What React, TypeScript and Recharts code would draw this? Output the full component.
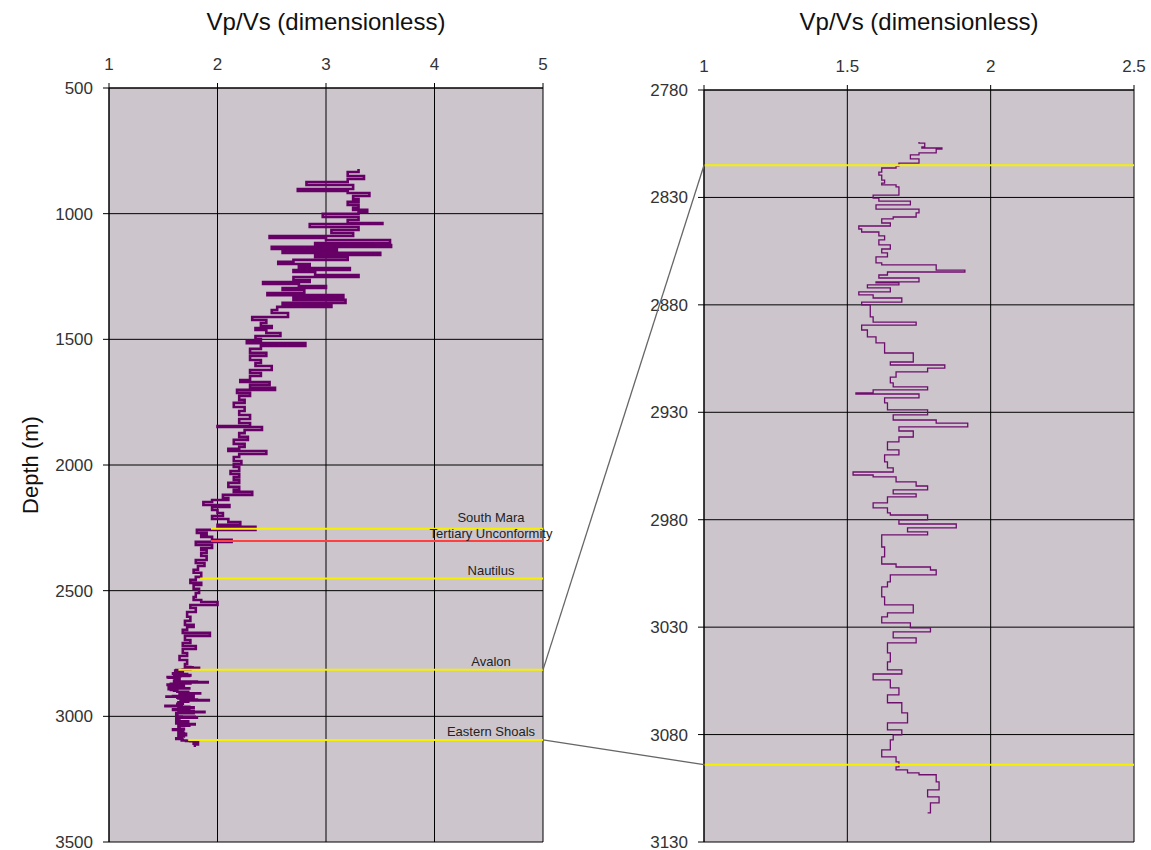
import React from "react";
import {
  LineChart,
  Line,
  XAxis,
  YAxis,
  CartesianGrid,
  ReferenceLine,
} from "recharts";

const upperLog: [number, number][] = [
  [822, 3.3], [834, 3.2], [850, 3.35], [862, 3.2], [874, 2.82], [886, 3.25],
  [902, 2.74], [910, 3.2], [918, 3.4], [930, 3.25], [942, 3.3], [953, 3.2],
  [965, 3.3], [977, 3.25], [985, 3.38], [993, 3.3], [1001, 2.97], [1013, 3.3],
  [1025, 3.2], [1037, 3.52], [1041, 2.85], [1053, 3.3], [1065, 3.05], [1077, 3.25],
  [1089, 2.48], [1097, 3.0], [1105, 3.59], [1117, 2.9], [1125, 3.6], [1132, 2.5],
  [1140, 3.1], [1148, 2.6], [1156, 3.5], [1164, 2.9], [1172, 3.2], [1184, 2.7],
  [1192, 2.56], [1200, 2.85], [1208, 2.75], [1216, 3.22], [1224, 2.7], [1232, 2.9],
  [1244, 3.3], [1252, 2.7], [1264, 2.85], [1272, 2.42], [1280, 2.75], [1288, 3.0],
  [1296, 2.6], [1304, 2.8], [1316, 2.46], [1324, 3.16], [1335, 2.7], [1343, 3.18],
  [1355, 2.6], [1363, 3.05], [1371, 2.55], [1383, 2.5], [1395, 2.65], [1411, 2.32],
  [1423, 2.45], [1435, 2.4], [1447, 2.5], [1455, 2.35], [1463, 2.45], [1475, 2.58],
  [1487, 2.35], [1499, 2.4], [1507, 2.27], [1515, 2.81], [1526, 2.4], [1538, 2.3],
  [1554, 2.45], [1566, 2.3], [1582, 2.4], [1594, 2.35], [1606, 2.5], [1622, 2.3],
  [1634, 2.4], [1646, 2.3], [1662, 2.21], [1670, 2.48], [1681, 2.3], [1693, 2.53],
  [1701, 2.18], [1713, 2.3], [1725, 2.2], [1741, 2.25], [1753, 2.15], [1769, 2.25],
  [1785, 2.2], [1801, 2.3], [1817, 2.2], [1833, 2.3], [1845, 2.0], [1849, 2.41],
  [1861, 2.25], [1873, 2.2], [1888, 2.28], [1900, 2.15], [1916, 2.25], [1928, 2.2],
  [1936, 2.1], [1944, 2.45], [1956, 2.2], [1968, 2.15], [1984, 2.22], [1996, 2.15],
  [2008, 2.2], [2024, 2.12], [2036, 2.2], [2048, 2.15], [2059, 2.2], [2071, 2.1],
  [2087, 2.2], [2099, 2.15], [2107, 2.32], [2119, 2.05], [2131, 2.1], [2139, 1.95],
  [2147, 1.87], [2159, 2.11], [2167, 1.95], [2179, 2.0], [2191, 2.05], [2203, 1.95],
  [2215, 2.1], [2227, 2.21], [2238, 2.0], [2246, 2.35], [2258, 1.81], [2270, 1.9],
  [2278, 1.85], [2286, 1.95], [2298, 2.13], [2306, 1.8], [2318, 1.95], [2330, 1.85],
  [2338, 1.9], [2350, 1.85], [2362, 1.9], [2378, 1.8], [2390, 1.88], [2402, 1.82],
  [2417, 1.78], [2429, 1.85], [2445, 1.8], [2457, 1.75], [2469, 1.85], [2477, 1.78],
  [2493, 1.83], [2509, 1.8], [2525, 1.78], [2537, 1.85], [2545, 2.0], [2557, 1.75],
  [2569, 1.8], [2585, 1.72], [2604, 1.75], [2620, 1.7], [2636, 1.78], [2644, 1.72],
  [2656, 1.68], [2668, 1.93], [2680, 1.7], [2696, 1.75], [2708, 1.68], [2720, 1.8],
  [2732, 1.68], [2748, 1.72], [2760, 1.65], [2776, 1.72], [2792, 1.7],
];

// zoom window 2800-3120 m
const zoomLog: [number, number][] = [
  [2804.2, 1.75], [2804.7, 1.77], [2806.5, 1.76], [2807, 1.83], [2807.5, 1.81],
  [2809.3, 1.75], [2810.2, 1.72], [2812.1, 1.75], [2814, 1.68], [2815.4, 1.67],
  [2816.3, 1.62], [2818.2, 1.61], [2819.6, 1.62], [2821.9, 1.63], [2823.3, 1.62],
  [2824.2, 1.67], [2825.1, 1.68], [2827.5, 1.68], [2828.9, 1.59], [2830.3, 1.61],
  [2831.7, 1.72], [2833.5, 1.6], [2835.4, 1.75], [2837.2, 1.74], [2839.1, 1.66],
  [2840, 1.62], [2841.9, 1.65], [2843.3, 1.54], [2844.7, 1.55], [2846.1, 1.61],
  [2847.9, 1.63], [2849.8, 1.61], [2852.1, 1.65], [2854, 1.62], [2855.8, 1.64],
  [2857.7, 1.6], [2860.5, 1.62], [2861.4, 1.81], [2863.8, 1.91], [2864.7, 1.64],
  [2866.1, 1.61], [2867.5, 1.75], [2869.3, 1.6], [2869.8, 1.68], [2870.7, 1.57],
  [2872.1, 1.65], [2874, 1.54], [2875.4, 1.59], [2876.8, 1.69], [2878.7, 1.55],
  [2880, 1.58], [2883.3, 1.58], [2885.6, 1.59], [2888, 1.74], [2889.4, 1.55],
  [2891.7, 1.57], [2894.9, 1.6], [2897.7, 1.63], [2899.6, 1.63], [2902.4, 1.73],
  [2906.6, 1.65], [2908, 1.84], [2909.4, 1.78], [2911.2, 1.67], [2913.6, 1.65],
  [2916.3, 1.66], [2918.2, 1.78], [2919.6, 1.59], [2921, 1.53], [2921.5, 1.75],
  [2923.3, 1.63], [2925.6, 1.64], [2928.9, 1.78], [2931.2, 1.66], [2933.6, 1.81],
  [2935, 1.92], [2936.8, 1.68], [2938.7, 1.73], [2941.5, 1.68], [2943.8, 1.64],
  [2947.5, 1.68], [2949.8, 1.63], [2953.1, 1.64], [2955.9, 1.66], [2957.8, 1.52],
  [2959.2, 1.59], [2960.1, 1.67], [2962.4, 1.74], [2964.3, 1.78], [2966.1, 1.66],
  [2968, 1.74], [2969.4, 1.64], [2972.2, 1.59], [2974.5, 1.64], [2976.8, 1.65],
  [2977.8, 1.78], [2980.1, 1.68], [2982, 1.88], [2983.8, 1.71], [2985.7, 1.78],
  [2987.1, 1.62], [2992.7, 1.63], [2997.3, 1.62], [3000.6, 1.67], [3002, 1.79],
  [3003.4, 1.81], [3005.7, 1.65], [3008.9, 1.64], [3011.3, 1.62], [3015.9, 1.63],
  [3019.6, 1.73], [3023.4, 1.64], [3025.2, 1.62], [3028, 1.72], [3030.3, 1.79],
  [3032.2, 1.66], [3035, 1.74], [3037.3, 1.64], [3042, 1.65], [3046.2, 1.64],
  [3049.9, 1.69], [3051.8, 1.59], [3054.5, 1.65], [3058.3, 1.68], [3061.5, 1.64],
  [3065.2, 1.69], [3069.9, 1.71], [3074.6, 1.64], [3077.8, 1.69], [3080.1, 1.66],
  [3082.5, 1.65], [3087.1, 1.62], [3090.4, 1.67], [3092.7, 1.68], [3095, 1.67],
  [3096.4, 1.71], [3097.8, 1.75], [3098.7, 1.81], [3102, 1.82], [3105.7, 1.78],
  [3109, 1.82], [3111.8, 1.79], [3116.4, 1.78],
];

// formation picks
const pickNames = ["South Mara", "Tertiary Unconformity", "Nautilus", "Avalon", "Eastern Shoals"];
const pickDepths = [2254, 2302, 2452, 2815, 3094];
const pickStartVpVs = [1.94, 1.94, 1.84, 1.64, 1.73];
const zoomPicks = ["Avalon", "Eastern Shoals"];

const leftXTicks = [1, 2, 3, 4, 5];
const leftYTicks = [500, 1000, 1500, 2000, 2500, 3000, 3500];
const rightXTicks = [1, 1.5, 2, 2.5];
const rightYTicks = [2780, 2830, 2880, 2930, 2980, 3030, 3080, 3130];

const toRows = (log: [number, number][]) => log.map(([depth, vpvs]) => ({ depth, vpvs }));
const zoomRows = toRows(zoomLog);
const fullRows = [...toRows(upperLog), ...zoomRows];

const FONT = '"Liberation Sans", Arial, sans-serif';
const PAGE_W = 1151;
const PAGE_H = 850;

// left track layout
const L = { x: 0, w: 560, axisW: 109, axisH: 88, right: 17, bottom: 8, domain: [500, 3500] };
// right (zoomed) track layout
const R = { x: 640, w: 511, axisW: 64, axisH: 90, right: 17, bottom: 8, domain: [2780, 3130] };

const depthToY = (d: number, t: typeof L) =>
  t.axisH + ((d - t.domain[0]) / (t.domain[1] - t.domain[0])) * (PAGE_H - t.bottom - t.axisH);

const tickStyle = { fill: "#333", fontSize: 17, fontFamily: FONT };

const title = (props: any) => {
  const { viewBox } = props;
  return (
    <text
      x={viewBox.x + viewBox.width / 2}
      y={30}
      textAnchor="middle"
      fontSize={24}
      fill="#111"
      fontFamily={FONT}
    >
      Vp/Vs (dimensionless)
    </text>
  );
};

const depthTitle = (props: any) => {
  const { viewBox } = props;
  const cx = viewBox.x + 30;
  const cy = viewBox.y + viewBox.height / 2;
  return (
    <text
      x={cx}
      y={cy}
      transform={`rotate(-90, ${cx}, ${cy})`}
      textAnchor="middle"
      dominantBaseline="central"
      fontSize={22}
      fill="#111"
      fontFamily={FONT}
    >
      Depth (m)
    </text>
  );
};

// the two close picks get their labels nudged apart, as in the source figure
const pickLabel = (name: string) => (props: any) => {
  const { viewBox } = props;
  const lift = name === "South Mara" ? 7 : name === "Tertiary Unconformity" ? 3 : 4;
  return (
    <text
      x={viewBox.x + viewBox.width - 52}
      y={viewBox.y - lift}
      textAnchor="middle"
      fontSize={13}
      fill="#222"
      fontFamily={FONT}
    >
      {name}
    </text>
  );
};

const pickColor = (name: string) => (name === "Tertiary Unconformity" ? "#ff4040" : "#f6f000");

const App = () => {
  const leftPlotRight = L.x + L.w - L.right;
  const rightPlotLeft = R.x + R.axisW;

  return (
    <div
      style={{
        position: "absolute",
        left: 0,
        top: 0,
        width: PAGE_W,
        height: PAGE_H,
        background: "#fff",
      }}
    >
      <div style={{ position: "absolute", left: L.x, top: 0 }}>
        <LineChart
          width={L.w}
          height={PAGE_H}
          data={fullRows}
          layout="vertical"
          margin={{ top: 0, right: L.right, bottom: L.bottom, left: 0 }}
        >
          <CartesianGrid stroke="#000" fill="#ccc6cc" fillOpacity={1} />
          <XAxis
            type="number"
            orientation="top"
            domain={[1, 5]}
            ticks={leftXTicks}
            height={L.axisH}
            tick={tickStyle}
            tickSize={5}
            tickMargin={13}
            axisLine={{ stroke: "#000" }}
            tickLine={{ stroke: "#000" }}
            allowDataOverflow
            label={title}
          />
          <YAxis
            type="number"
            dataKey="depth"
            domain={L.domain}
            ticks={leftYTicks}
            width={L.axisW}
            tick={tickStyle}
            tickSize={6}
            tickMargin={10}
            axisLine={{ stroke: "#000" }}
            tickLine={{ stroke: "#000" }}
            allowDataOverflow
            interval={0}
            label={depthTitle}
          />
          <Line
            dataKey="vpvs"
            type="stepBefore"
            stroke="#660066"
            strokeWidth={2.6}
            dot={false}
            isAnimationActive={false}
          />
          {pickNames.map((name, i) => (
            <ReferenceLine
              key={name}
              segment={[
                { x: pickStartVpVs[i], y: pickDepths[i] },
                { x: 5, y: pickDepths[i] },
              ]}
              stroke={pickColor(name)}
              strokeWidth={2}
              label={pickLabel(name)}
            />
          ))}
        </LineChart>
      </div>

      <div style={{ position: "absolute", left: R.x, top: 0 }}>
        <LineChart
          width={R.w}
          height={PAGE_H}
          data={zoomRows}
          layout="vertical"
          margin={{ top: 0, right: R.right, bottom: R.bottom, left: 0 }}
        >
          <CartesianGrid stroke="#000" fill="#ccc6cc" fillOpacity={1} />
          <XAxis
            type="number"
            orientation="top"
            domain={[1, 2.5]}
            ticks={rightXTicks}
            height={R.axisH}
            tick={tickStyle}
            tickSize={5}
            tickMargin={13}
            axisLine={{ stroke: "#000" }}
            tickLine={{ stroke: "#000" }}
            allowDataOverflow
            label={title}
          />
          <YAxis
            type="number"
            dataKey="depth"
            domain={R.domain}
            ticks={rightYTicks}
            width={R.axisW}
            tick={tickStyle}
            tickSize={6}
            tickMargin={10}
            axisLine={{ stroke: "#000" }}
            tickLine={{ stroke: "#000" }}
            allowDataOverflow
            interval={0}
          />
          <Line
            dataKey="vpvs"
            type="stepBefore"
            stroke="#6e0f6e"
            strokeWidth={1.3}
            dot={false}
            isAnimationActive={false}
          />
          {zoomPicks.map((name) => (
            <ReferenceLine
              key={name}
              y={pickDepths[pickNames.indexOf(name)]}
              stroke="#f6f000"
              strokeWidth={2}
            />
          ))}
        </LineChart>
      </div>

      {/* connectors from the left track to the zoom window */}
      <svg
        width={PAGE_W}
        height={PAGE_H}
        style={{ position: "absolute", left: 0, top: 0, pointerEvents: "none" }}
      >
        {zoomPicks.map((name) => {
          const d = pickDepths[pickNames.indexOf(name)];
          return (
            <line
              key={name}
              x1={leftPlotRight}
              y1={depthToY(d, L)}
              x2={rightPlotLeft}
              y2={depthToY(d, R)}
              stroke="#666"
              strokeWidth={1.3}
            />
          );
        })}
      </svg>
    </div>
  );
};

export default App;
